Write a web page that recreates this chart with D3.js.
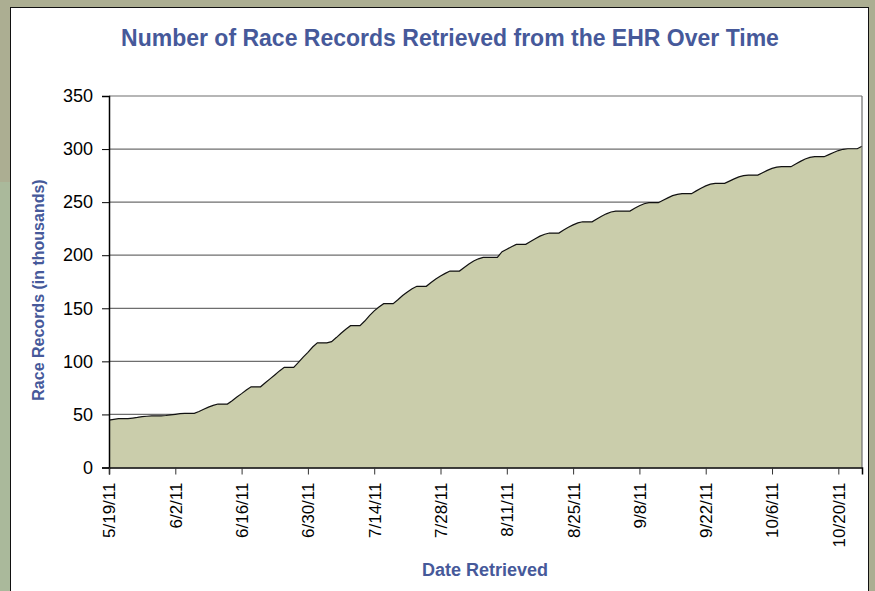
<!DOCTYPE html>
<html>
<head>
<meta charset="utf-8">
<script src="https://cdn.jsdelivr.net/npm/d3@7"></script>
<style>
  body { margin: 0; background: #acae92; }
  text { font-family: "Liberation Sans", Arial, sans-serif; }
</style>
</head>
<body>
<div id="chart"></div>
<script>
// daily cumulative records (thousands), 5/19/11 .. 10/25/11
const startDate = '2011-05-19';
const records = [
  44.7, 45.4,
  46.0, 46.0, 46.0, 46.6, 47.2, 47.9, 48.3,
  48.6, 48.6, 48.6, 49.0, 49.5, 50.1, 50.7,
  51.0, 51.0, 51.0, 52.8, 54.9, 56.9, 58.5,
  59.8, 59.8, 59.8, 62.9, 66.4, 69.6, 73.0,
  76.0, 76.0, 76.0, 79.8, 83.5, 87.2, 91.0,
  94.4, 94.4, 94.4, 99.0, 104.0, 108.5, 113.5,
  117.5, 117.5, 117.5, 118.6, 122.4, 126.5, 130.2,
  133.6, 133.6, 133.6, 138.0, 143.1, 147.6, 151.2,
  154.3, 154.3, 154.3, 158.0, 162.0, 165.3, 168.4,
  170.7, 170.7, 170.7, 174.3, 177.6, 180.4, 182.9,
  185.1, 185.1, 185.1, 188.5, 191.8, 194.6, 196.6,
  198.0, 198.0, 198.0, 198.0, 203.3, 205.6, 208.0,
  210.2, 210.2, 210.2, 212.9, 215.6, 218.0, 219.8,
  220.9, 220.9, 220.9, 223.8, 226.4, 228.6, 230.4,
  231.5, 231.5, 231.5, 234.2, 236.8, 239.0, 240.7,
  241.6, 241.6, 241.6, 241.6, 244.2, 246.6, 248.5,
  249.5, 249.5, 249.5, 251.8, 254.0, 256.1, 257.3,
  258.0, 258.0, 258.0, 260.6, 263.0, 265.3, 266.9,
  267.7, 267.7, 267.7, 269.8, 271.9, 273.8, 275.0,
  275.5, 275.5, 275.5, 277.7, 279.9, 281.8, 283.0,
  283.4, 283.4, 283.4, 285.9, 288.4, 290.6, 292.1,
  292.8, 292.8, 292.8, 294.8, 296.8, 298.6, 299.8,
  300.3, 300.3, 300.3, 302.6
];
const tickLabels = ['5/19/11', '6/2/11', '6/16/11', '6/30/11', '7/14/11', '7/28/11',
  '8/11/11', '8/25/11', '9/8/11', '9/22/11', '10/6/11', '10/20/11'];
const yTicks = [0, 50, 100, 150, 200, 250, 300, 350];

const W = 875, H = 591;
const plot = { left: 109, right: 862, top: 96, bottom: 467.5 };
const blue = '#46599a';

const parse = d3.timeParse('%Y-%m-%d');
const fmt = d3.timeFormat('%-m/%-d/%y');
const t0 = parse(startDate);
const data = records.map((v, i) => ({ date: d3.timeDay.offset(t0, i), value: v }));

const svg = d3.select('#chart').append('svg')
  .attr('width', W)
  .attr('height', H);

// frame
svg.append('rect').attr('x', 0).attr('y', 0).attr('width', W).attr('height', H).attr('fill', '#acae92');
svg.append('rect').attr('x', 0).attr('y', 182).attr('width', 10).attr('height', H - 182).attr('fill', '#aab99b');
svg.append('rect')
  .attr('x', 10.5).attr('y', 7.5)
  .attr('width', 858).attr('height', H)
  .attr('fill', '#fff')
  .attr('stroke', '#111');

const x = d3.scaleTime()
  .domain([data[0].date, data[data.length - 1].date])
  .range([plot.left, plot.right]);

const y = d3.scaleLinear()
  .domain([0, 350])
  .range([plot.bottom, plot.top]);

// gridlines
svg.append('g')
  .selectAll('line')
  .data(yTicks.slice(1))
  .enter().append('line')
  .attr('x1', plot.left).attr('x2', plot.right)
  .attr('y1', d => y(d)).attr('y2', d => y(d))
  .attr('stroke', '#6e6e6e')
  .attr('stroke-width', 1.2);

// area + outline
const area = d3.area()
  .x(d => x(d.date))
  .y0(plot.bottom)
  .y1(d => y(d.value));

const line = d3.line()
  .x(d => x(d.date))
  .y(d => y(d.value));

svg.append('path')
  .datum(data)
  .attr('d', area)
  .attr('fill', '#cacdab');

svg.append('path')
  .datum(data)
  .attr('d', line)
  .attr('fill', 'none')
  .attr('stroke', '#111')
  .attr('stroke-width', 1.2);

// right border of plot
svg.append('line')
  .attr('x1', plot.right).attr('x2', plot.right)
  .attr('y1', plot.top).attr('y2', plot.bottom)
  .attr('stroke', '#6e6e6e')
  .attr('stroke-width', 1.2);

// y axis
const yAxis = svg.append('g')
  .attr('transform', `translate(${plot.left},0)`)
  .call(d3.axisLeft(y).tickValues(yTicks).tickSize(7).tickPadding(9));
yAxis.select('.domain').attr('stroke', '#000').attr('stroke-width', 1.5);
yAxis.selectAll('.tick line').attr('stroke', '#000');
yAxis.selectAll('text')
  .attr('font-size', 18)
  .attr('fill', '#000');

// x axis
const tickDates = tickLabels.map(s => data.find(d => fmt(d.date) === s).date);
const xAxis = svg.append('g')
  .attr('transform', `translate(0,${plot.bottom})`)
  .call(d3.axisBottom(x).tickValues(tickDates).tickFormat(fmt).tickSize(7));
xAxis.select('.domain').attr('stroke', '#000').attr('stroke-width', 1.5);
xAxis.selectAll('.tick line').attr('stroke', '#333');
xAxis.selectAll('text')
  .attr('transform', 'rotate(-90)')
  .attr('x', -15)
  .attr('y', 0)
  .attr('dy', '0.35em')
  .style('text-anchor', 'end')
  .attr('font-size', 17)
  .attr('fill', '#000');

// titles
svg.append('text')
  .attr('x', 450).attr('y', 46)
  .attr('text-anchor', 'middle')
  .attr('font-size', 23)
  .attr('font-weight', 'bold')
  .attr('fill', blue)
  .text('Number of Race Records Retrieved from the EHR Over Time');

svg.append('text')
  .attr('transform', 'translate(44,290) rotate(-90)')
  .attr('text-anchor', 'middle')
  .attr('font-size', 16)
  .attr('font-weight', 'bold')
  .attr('fill', blue)
  .text('Race Records (in thousands)');

svg.append('text')
  .attr('x', 485).attr('y', 576)
  .attr('text-anchor', 'middle')
  .attr('font-size', 18)
  .attr('font-weight', 'bold')
  .attr('fill', blue)
  .text('Date Retrieved');
</script>
</body>
</html>
